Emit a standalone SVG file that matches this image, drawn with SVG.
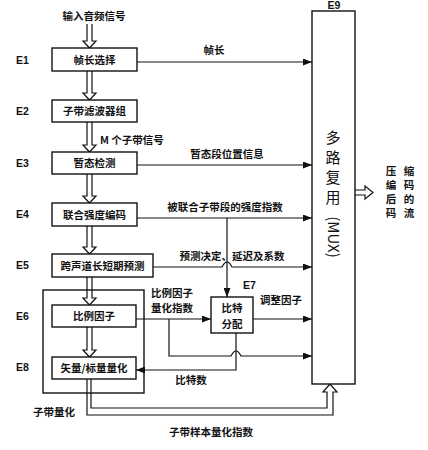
<svg xmlns="http://www.w3.org/2000/svg" width="428" height="450" viewBox="0 0 428 450">
<defs>
<marker id="ah" markerWidth="9" markerHeight="7" refX="9" refY="3.5" orient="auto" markerUnits="userSpaceOnUse">
<path d="M0,0 L9,3.5 L0,7 Z" fill="#111"/>
</marker>
</defs>
<style>
.box{fill:#fff;stroke:#111;stroke-width:1.4}
.ln{fill:none;stroke:#111;stroke-width:1.2}
.ha{fill:#fff;stroke:#111;stroke-width:1.2}
.t{font-family:"Noto Sans CJK SC","Liberation Sans",sans-serif;font-size:10.5px;font-weight:bold;fill:#111}
.e{font-family:"Liberation Sans",sans-serif;font-size:10.5px;font-weight:bold;fill:#111}
.m{font-family:"Noto Sans CJK SC","Liberation Sans",sans-serif;font-size:15px;fill:#111}
</style>
<rect width="428" height="450" fill="#fff"/>

<g id="connectors">
<!-- hollow double arrows -->
<path class="ha" d="M87,24 V41 H83 L89.5,48 L96,41 H92 V24"/>
<path class="ha" d="M87,71 V93 H83 L89.5,100 L96,93 H92 V71"/>
<path class="ha" d="M87,122 V145 H83 L89.5,152 L96,145 H92 V122"/>
<path class="ha" d="M87,174 V196 H83 L89.5,203 L96,196 H92 V174"/>
<path class="ha" d="M87,226 V247 H83 L89.5,254 L96,247 H92 V226"/>
<path class="ha" d="M87,277 V298 H83 L89.5,305 L96,298 H92 V277"/>
<path class="ha" d="M87,327 V350 H83 L89.5,357 L96,350 H92 V327"/>
<!-- E8 to MUX double line -->
<path class="ln" d="M87,379 V415 H333 V392 H337 L330,384 L323,392 H327 V408 H91 V379"/>
<!-- output arrow -->
<path class="ha" d="M355,190 H365 V186 L373,192.5 L365,199 V195 H355"/>
<!-- single arrows -->
<path class="ln" d="M137,62 H312" marker-end="url(#ah)"/>
<path class="ln" d="M137,165 H312" marker-end="url(#ah)"/>
<path class="ln" d="M137,218 H312" marker-end="url(#ah)"/>
<path class="ln" d="M227,218 V297" marker-end="url(#ah)"/>
<path class="ln" d="M153,267 H222 Q227,257 232,267 H312" marker-end="url(#ah)"/>
<path class="ln" d="M136,319 H211" marker-end="url(#ah)"/>
<path class="ln" d="M253,319 H312" marker-end="url(#ah)"/>
<path class="ln" d="M169,319 V356 H231 Q236,346 241,356 H312" marker-end="url(#ah)"/>
<path class="ln" d="M236,333 V370 H136" marker-end="url(#ah)"/>
</g>

<g id="subband">
<rect x="43" y="290" width="101" height="103" fill="none" stroke="#111" stroke-width="1.4"/>
<text class="t" x="54" y="416" text-anchor="middle">子带量化</text>
</g>

<g id="input"><text class="t" x="94" y="20" text-anchor="middle">输入音频信号</text></g>

<g id="E1">
<text class="e" x="16" y="64">E1</text>
<rect class="box" x="52" y="48" width="85" height="23"/>
<text class="t" x="94.5" y="63.5" text-anchor="middle">帧长选择</text>
</g>
<g id="E2">
<text class="e" x="16" y="115">E2</text>
<rect class="box" x="52" y="100" width="85" height="22"/>
<text class="t" x="94.5" y="115" text-anchor="middle">子带滤波器组</text>
</g>
<g id="E3">
<text class="e" x="16" y="167">E3</text>
<rect class="box" x="52" y="152" width="85" height="22"/>
<text class="t" x="94.5" y="167" text-anchor="middle">暂态检测</text>
</g>
<g id="E4">
<text class="e" x="16" y="218">E4</text>
<rect class="box" x="52" y="203" width="85" height="23"/>
<text class="t" x="94.5" y="218.5" text-anchor="middle">联合强度编码</text>
</g>
<g id="E5">
<text class="e" x="16" y="269">E5</text>
<rect class="box" x="52" y="254" width="101" height="23"/>
<text class="t" x="102.5" y="269.5" text-anchor="middle">跨声道长短期预测</text>
</g>
<g id="E6">
<text class="e" x="16" y="320">E6</text>
<rect class="box" x="52" y="305" width="84" height="22"/>
<text class="t" x="94" y="320" text-anchor="middle">比例因子</text>
</g>
<g id="E8">
<text class="e" x="16" y="371">E8</text>
<rect class="box" x="52" y="357" width="84" height="22"/>
<text class="t" x="94" y="372" text-anchor="middle">矢量/标量量化</text>
</g>
<g id="E7">
<text class="e" x="243" y="289">E7</text>
<rect class="box" x="211" y="297" width="42" height="36"/>
<text class="t" x="232" y="312" text-anchor="middle">比特</text>
<text class="t" x="232" y="328" text-anchor="middle">分配</text>
</g>
<g id="E9">
<text class="e" x="334" y="9" text-anchor="middle">E9</text>
<rect class="box" x="312" y="11" width="43" height="373"/>
<text class="m" x="333" y="143" text-anchor="middle">多</text>
<text class="m" x="333" y="163" text-anchor="middle">路</text>
<text class="m" x="333" y="183" text-anchor="middle">复</text>
<text class="m" x="333" y="203" text-anchor="middle">用</text>
<text class="m" transform="translate(328,237) rotate(90)" text-anchor="middle">(MUX)</text>
</g>
<g id="output">
<text class="t" x="391" y="175" text-anchor="middle">压</text>
<text class="t" x="409" y="175" text-anchor="middle">缩</text>
<text class="t" x="391" y="189" text-anchor="middle">编</text>
<text class="t" x="409" y="189" text-anchor="middle">码</text>
<text class="t" x="391" y="203" text-anchor="middle">后</text>
<text class="t" x="409" y="203" text-anchor="middle">的</text>
<text class="t" x="391" y="217" text-anchor="middle">码</text>
<text class="t" x="409" y="217" text-anchor="middle">流</text>
</g>

<g id="labels">
<text class="t" x="100" y="144">M 个子带信号</text>
<text class="t" x="214" y="54" text-anchor="middle">帧长</text>
<text class="t" x="227" y="158" text-anchor="middle">暂态段位置信息</text>
<text class="t" x="225" y="211" text-anchor="middle">被联合子带段的强度指数</text>
<text class="t" x="232" y="260" text-anchor="middle">预测决定、延迟及系数</text>
<text class="t" x="151" y="297">比例因子</text>
<text class="t" x="151" y="312">量化指数</text>
<text class="t" x="260" y="304">调整因子</text>
<text class="t" x="191" y="384" text-anchor="middle">比特数</text>
<text class="t" x="211" y="436" text-anchor="middle">子带样本量化指数</text>
</g>
</svg>
